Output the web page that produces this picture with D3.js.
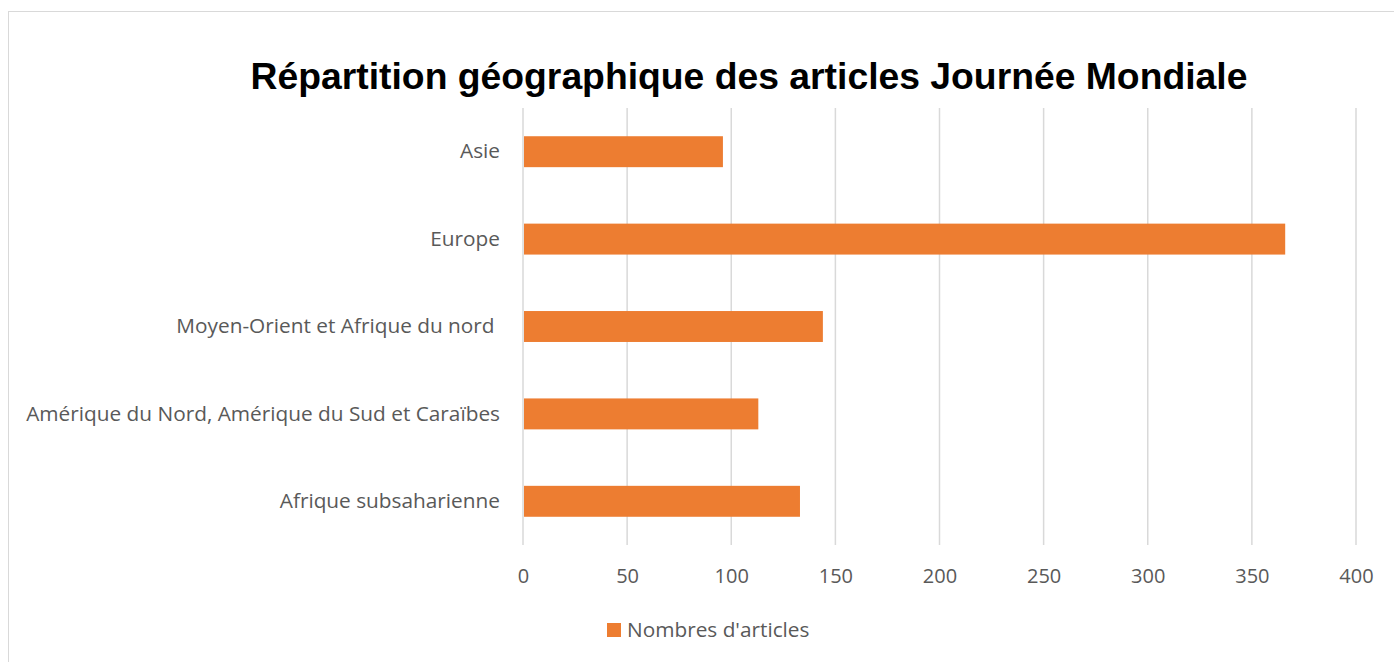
<!DOCTYPE html>
<html>
<head>
<meta charset="utf-8">
<script src="https://cdn.jsdelivr.net/npm/d3@7"></script>
<style>
  body { margin: 0; background: #fff; }
  svg text { font-family: "Open Sans", "Noto Sans", sans-serif; }
</style>
</head>
<body>
<div id="viz-body"></div>
<script>
// data
var categories = ["Asie", "Europe", "Moyen-Orient et Afrique du nord ", "Amérique du Nord, Amérique du Sud et Caraïbes", "Afrique subsaharienne"];
var values = [96, 366, 144, 113, 133];
var xTicks = [0, 50, 100, 150, 200, 250, 300, 350, 400];
var seriesName = "Nombres d'articles";
var title = "Répartition géographique des articles Journée Mondiale";

var W = 1394, H = 662,
    margin = { top: 108, left: 523, right: 38, bottom: 117 },
    width = W - margin.left - margin.right,
    height = H - margin.top - margin.bottom,
    barColor = "#ED7D31",
    textColor = "#595959";

const svg = d3.select("#viz-body").append("svg")
    .attr("width", W)
    .attr("height", H);

// chart frame
svg.append("rect")
    .attr("x", 8.5).attr("y", 11.5)
    .attr("width", W + 20).attr("height", H + 20)
    .attr("fill", "none")
    .attr("stroke", "#d9d9d9");

svg.append("text")
    .attr("x", 749).attr("y", 89)
    .attr("text-anchor", "middle")
    .style("font-family", "'Liberation Sans', Arial, sans-serif")
    .style("font-weight", "bold")
    .style("font-size", "37.3px")
    .attr("fill", "#000")
    .text(title);

const g = svg.append("g")
    .attr("transform", "translate(" + margin.left + "," + margin.top + ")");

const x = d3.scaleLinear().domain([0, 400]).range([0, 833]);
const y = d3.scaleBand()
    .domain(categories)
    .range([0, height])
    .paddingInner(0.646)
    .paddingOuter(0.323);

// gridlines
g.selectAll("line.grid")
    .data(xTicks)
    .enter().append("line")
    .attr("class", "grid")
    .attr("x1", d => x(d)).attr("x2", d => x(d))
    .attr("y1", 0).attr("y2", height)
    .attr("stroke", "#d9d9d9")
    .attr("stroke-width", 1.5);

// bars
g.selectAll("rect.bar")
    .data(values)
    .enter().append("rect")
    .attr("class", "bar")
    .attr("x", x(0) + 1)
    .attr("y", (d, i) => y(categories[i]))
    .attr("width", d => x(d) - x(0) - 1)
    .attr("height", y.bandwidth())
    .attr("fill", barColor);

// x axis labels
const xAxis = g.append("g")
    .attr("transform", "translate(0," + height + ")")
    .call(d3.axisBottom(x).tickValues(xTicks).tickSize(0).tickPadding(24).tickFormat(d3.format("d")));
xAxis.select(".domain").remove();
xAxis.selectAll("text")
    .style("font-family", "'Open Sans', sans-serif")
    .style("font-size", "20px")
    .attr("fill", textColor);

// y axis labels
const yAxis = g.append("g")
    .call(d3.axisLeft(y).tickSize(0).tickPadding(23));
yAxis.select(".domain").remove();
yAxis.selectAll("text")
    .style("font-family", "'Open Sans', sans-serif")
    .style("font-size", "20.8px")
    .attr("fill", textColor)
    .style("white-space", "pre");

// legend
const legend = svg.append("g").attr("transform", "translate(607,623)");
legend.append("rect")
    .attr("width", 14).attr("height", 14)
    .attr("fill", barColor);
legend.append("text")
    .attr("x", 20).attr("y", 7)
    .attr("dy", "0.35em")
    .style("font-size", "20.8px")
    .attr("fill", textColor)
    .text(seriesName);
</script>
</body>
</html>
